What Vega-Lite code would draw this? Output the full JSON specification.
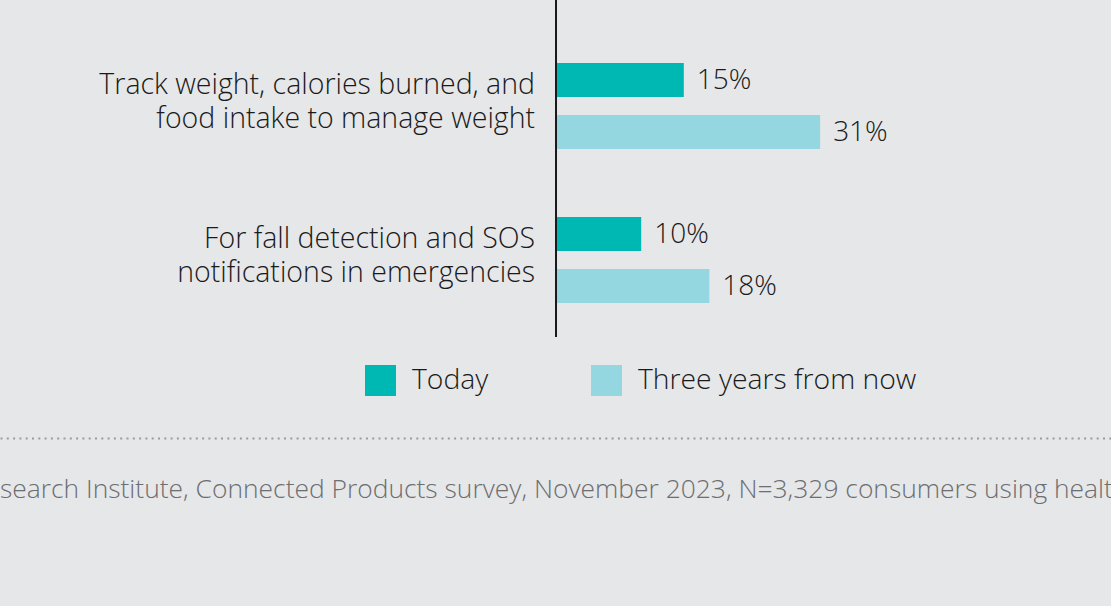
{
  "$schema": "https://vega.github.io/schema/vega-lite/v6.json",
  "width": 1111,
  "height": 337,
  "autosize": {"type": "none"},
  "padding": {"left": 0, "top": 0, "right": 0, "bottom": 269},
  "background": "#e6e7e9",
  "config": {
    "view": {"stroke": null},
    "font": "Open Sans",
    "text": {"font": "Open Sans", "fontWeight": 300}
  },
  "title": {
    "text": "search Institute, Connected Products survey, November 2023, N=3,329 consumers using health",
    "orient": "bottom",
    "anchor": "start",
    "frame": "group",
    "offset": 60,
    "fontSize": 26.4,
    "fontWeight": 300,
    "font": "Open Sans",
    "color": "#6d6e70",
    "baseline": "alphabetic"
  },
  "datasets": {
    "bars": [
      {"category": "Track weight", "series": "Today", "value": 0.15},
      {"category": "Track weight", "series": "Three years from now", "value": 0.31},
      {"category": "Fall detection", "series": "Today", "value": 0.10},
      {"category": "Fall detection", "series": "Three years from now", "value": 0.18}
    ],
    "cats": [
      {"category": "Track weight", "label": "Track weight, calories burned, and\nfood intake to manage weight"},
      {"category": "Fall detection", "label": "For fall detection and SOS\nnotifications in emergencies"}
    ]
  },
  "encoding": {
    "x": {
      "type": "quantitative",
      "scale": {"domain": [-0.6526, 0.6514], "nice": false, "zero": false},
      "axis": {
        "orient": "bottom",
        "offset": 101,
        "domain": true,
        "domainColor": "#9a9b9d",
        "domainWidth": 2,
        "domainDash": [2, 4.3],
        "ticks": false,
        "labels": false,
        "grid": false,
        "title": null
      }
    },
    "y": {
      "field": "category",
      "type": "nominal",
      "sort": ["Track weight", "Fall detection"],
      "scale": {"paddingInner": 0, "paddingOuter": 0.094, "align": 1},
      "axis": null
    }
  },
  "layer": [
    {
      "data": {"name": "bars"},
      "mark": {"type": "bar", "cornerRadius": 0},
      "encoding": {
        "x": {"field": "value", "type": "quantitative"},
        "x2": {"datum": 0},
        "yOffset": {
          "field": "series",
          "type": "nominal",
          "sort": ["Today", "Three years from now"],
          "scale": {"paddingInner": 0.346, "paddingOuter": 0.654}
        },
        "color": {
          "field": "series",
          "type": "nominal",
          "sort": ["Today", "Three years from now"],
          "scale": {"domain": ["Today", "Three years from now"], "range": ["#00b8b3", "#94d7e0"]},
          "legend": {
            "title": null,
            "orient": "none",
            "legendX": 365,
            "legendY": 365,
            "direction": "horizontal",
            "symbolType": "square",
            "symbolSize": 961,
            "symbolStrokeWidth": 0,
            "symbolOpacity": 1,
            "labelFontSize": 28.3,
            "labelFont": "Open Sans",
            "labelFontWeight": 300,
            "labelColor": "#1a1a1a",
            "labelOffset": 16,
            "columnPadding": 102,
            "labelLimit": 500
          }
        }
      }
    },
    {
      "data": {"name": "bars"},
      "mark": {"type": "text", "align": "left", "baseline": "middle", "dx": 13, "dy": 1, "fontSize": 28, "color": "#1a1a1a"},
      "encoding": {
        "x": {"field": "value", "type": "quantitative"},
        "yOffset": {
          "field": "series",
          "type": "nominal",
          "sort": ["Today", "Three years from now"],
          "scale": {"paddingInner": 0.346, "paddingOuter": 0.654}
        },
        "text": {"field": "value", "type": "quantitative", "format": ".0%"}
      }
    },
    {
      "data": {"name": "cats"},
      "mark": {"type": "text", "align": "right", "baseline": "middle", "dx": -21, "dy": -21, "fontSize": 28.5, "lineHeight": 34, "lineBreak": "\n", "color": "#1a1a1a"},
      "encoding": {
        "x": {"datum": 0},
        "text": {"field": "label"}
      }
    },
    {
      "data": {"values": [{"k": 1}]},
      "mark": {"type": "rule", "color": "#1a1a1a", "strokeWidth": 2},
      "encoding": {"x": {"datum": 0}, "y": {"value": 0}, "y2": {"value": 337}}
    }
  ]
}
